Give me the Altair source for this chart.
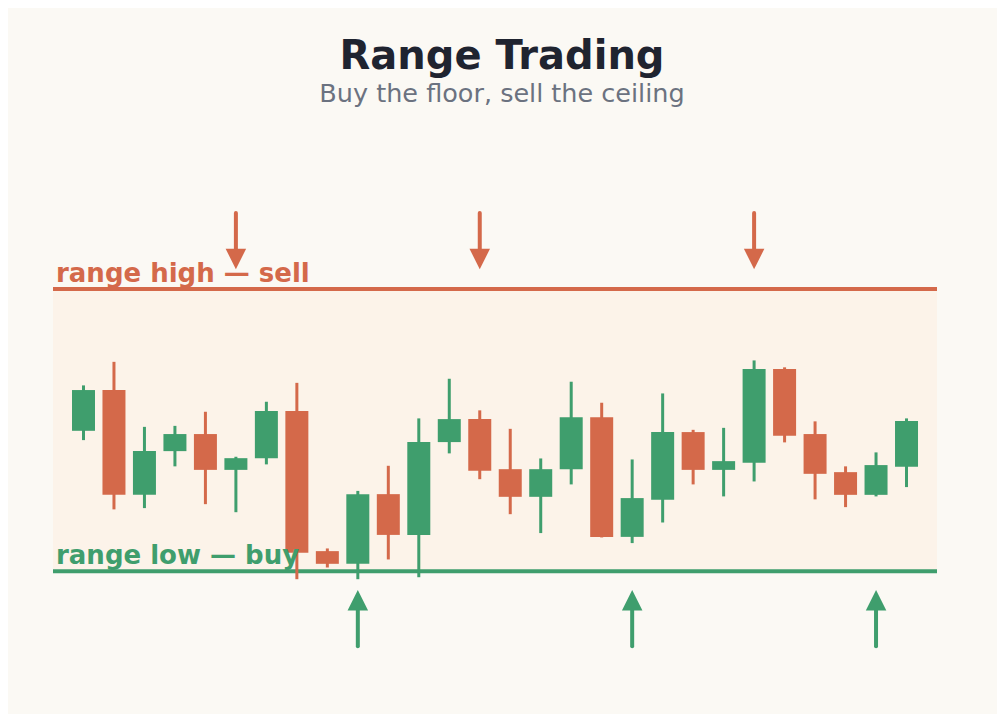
import altair as alt
import pandas as pd

# candle data (one row per session)
opens = [99.95, 102.84, 95.41, 98.51, 99.72, 97.18, 98.01, 101.35, 91.42, 90.52,
         95.46, 92.57, 99.15, 100.78, 97.23, 95.27, 97.23, 100.92, 92.43, 95.06,
         99.86, 97.18, 97.68, 104.33, 99.72, 97.02, 95.41, 97.40]
closes = [102.84, 95.41, 98.51, 99.72, 97.18, 98.01, 101.35, 91.30, 90.52, 95.46,
          92.57, 99.15, 100.78, 97.11, 95.27, 97.23, 100.92, 92.43, 95.18, 99.86,
          97.18, 97.80, 104.33, 99.60, 96.90, 95.41, 97.52, 100.64]
highs = [103.17, 104.84, 100.23, 100.30, 101.30, 98.11, 102.01, 103.35, 91.61, 95.69,
         97.47, 100.83, 103.64, 101.40, 100.09, 97.99, 103.43, 101.94, 97.92, 102.60,
         100.02, 100.16, 104.94, 104.45, 100.62, 97.43, 98.42, 100.83]
lows = [99.29, 94.38, 94.47, 97.43, 94.75, 94.18, 97.57, 89.43, 90.26, 89.43,
        90.83, 89.57, 98.35, 96.52, 94.04, 92.70, 96.15, 92.39, 91.99, 93.45,
        96.15, 95.30, 96.36, 99.13, 95.09, 94.54, 95.30, 95.96]

range_high = 110
range_low = 90

# where the sell / buy signals sit
sell_at = [5, 13, 22]
buy_at = [9, 18, 26]

RED = '#d4694a'
GREEN = '#3f9e6d'

candles = pd.DataFrame({
    'i': list(range(len(opens))),
    'open': opens, 'close': closes, 'high': highs, 'low': lows,
})
candles['dir'] = ['up' if c >= o else 'down' for o, c in zip(opens, closes)]

x = alt.X('i:Q', scale=alt.Scale(domain=[-1, len(opens)], padding=0, nice=False), axis=None)
yscale = alt.Scale(domain=[82, 120], nice=False)
color = alt.Color('dir:N', scale=alt.Scale(domain=['up', 'down'], range=[GREEN, RED]), legend=None)

base = alt.Chart(candles)

band = alt.Chart(pd.DataFrame({'lo': [range_low], 'hi': [range_high]})).mark_rect(color='#fcf3e9').encode(
    x=alt.value(0), x2=alt.value(884),
    y=alt.Y('lo:Q', scale=yscale, axis=None), y2='hi:Q'
)

wicks = base.mark_rule(strokeWidth=3).encode(
    x=x, y=alt.Y('low:Q', scale=yscale, axis=None), y2='high:Q', color=color
)
bodies = base.mark_bar(size=23).encode(
    x=x, y=alt.Y('open:Q', scale=yscale, axis=None), y2='close:Q', color=color
)

levels = pd.DataFrame({
    'y': [range_high, range_low],
    'label': ['range high \u2014 sell', 'range low \u2014 buy'],
    'kind': ['down', 'up'],
})
level_color = alt.Color('kind:N', scale=alt.Scale(domain=['up', 'down'], range=[GREEN, RED]), legend=None)
lines = alt.Chart(levels).mark_rule(strokeWidth=4).encode(
    y=alt.Y('y:Q', scale=yscale, axis=None), color=level_color
)
labels = alt.Chart(levels).mark_text(
    align='left', baseline='alphabetic', dx=3, dy=-7, fontSize=26, fontWeight='bold', font='DejaVu Sans'
).encode(
    x=alt.value(0), y=alt.Y('y:Q', scale=yscale, axis=None), text='label:N', color=level_color
)

sells = pd.DataFrame({'i': sell_at, 'start': 115.39, 'end': 112.27, 'head': 112.13})
buys = pd.DataFrame({'i': buy_at, 'start': 84.68, 'end': 88.23, 'head': 87.94})

sell_shaft = alt.Chart(sells).mark_rule(strokeWidth=4, color=RED, strokeCap='round').encode(
    x=x, y=alt.Y('start:Q', scale=yscale, axis=None), y2='end:Q'
)
sell_head = alt.Chart(sells).mark_point(shape='M-1,-1L1,-1L0,1Z', size=420, filled=True, opacity=1, color=RED).encode(
    x=x, y=alt.Y('head:Q', scale=yscale, axis=None)
)
buy_shaft = alt.Chart(buys).mark_rule(strokeWidth=4, color=GREEN, strokeCap='round').encode(
    x=x, y=alt.Y('start:Q', scale=yscale, axis=None), y2='end:Q'
)
buy_head = alt.Chart(buys).mark_point(shape='M-1,1L1,1L0,-1Z', size=420, filled=True, opacity=1, color=GREEN).encode(
    x=x, y=alt.Y('head:Q', scale=yscale, axis=None)
)

chart = alt.layer(
    band, lines, wicks, bodies, labels, sell_shaft, sell_head, buy_shaft, buy_head
).properties(
    width=884,
    height=536,
    padding={'left': 43, 'top': 28, 'right': 58, 'bottom': 30},
    background='#fbf9f4',
    title=alt.TitleParams(
        'Range Trading',
        subtitle='Buy the floor, sell the ceiling',
        fontSize=40, font='DejaVu Sans', fontWeight='bold', color='#1f2430',
        subtitleFontSize=25.5, subtitleFont='DejaVu Sans', subtitleColor='#6b7280',
        subtitlePadding=5, anchor='middle', dx=7, offset=41
    )
).configure_view(stroke=None)

chart.save('out.html', embed_options={'renderer': 'svg', 'actions': False})
